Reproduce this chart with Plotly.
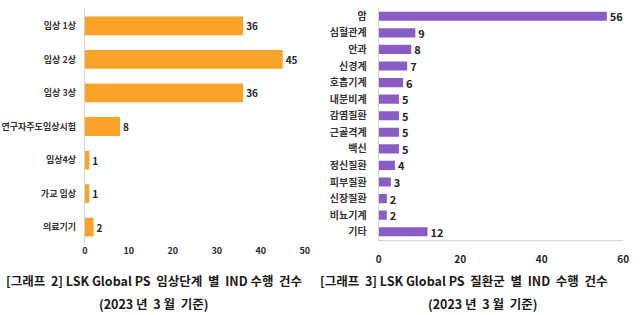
import plotly.graph_objects as go

stage_labels = ["임상 1상", "임상 2상", "임상 3상", "연구자주도임상시험", "임상4상", "가교 임상", "의료기기"]
stage_values = [36, 45, 36, 8, 1, 1, 2]

disease_labels = ["암", "심혈관계", "안과", "신경계", "호흡기계", "내분비계", "감염질환",
                  "근골격계", "백신", "정신질환", "피부질환", "신장질환", "비뇨기계", "기타"]
disease_values = [56, 9, 8, 7, 6, 5, 5, 5, 5, 4, 3, 2, 2, 12]

left_ticks = [0, 10, 20, 30, 40, 50]
right_ticks = [0, 20, 40, 60]

caption_left = "[그래프  2] LSK Global PS  임상단계  별  IND 수행  건수"
caption_right = "[그래프  3] LSK Global PS  질환군  별  IND  수행  건수"
caption_date = "(2023 년  3 월  기준)"

W, H = 640, 315
FONT = "Noto Sans CJK KR"

def px_x(x):
    return x / W

def px_y(y):
    return 1 - y / H

fig = go.Figure()

fig.add_trace(go.Bar(
    x=stage_values, y=stage_labels, orientation="h",
    marker=dict(color="#F9A428", line=dict(width=0)),
    text=stage_values, textposition="outside", cliponaxis=False, constraintext="none",
    textfont=dict(family=FONT, size=10, color="#262626", weight="bold"),
    xaxis="x", yaxis="y", width=0.56,
))

fig.add_trace(go.Bar(
    x=disease_values, y=disease_labels, orientation="h",
    marker=dict(color="#8A5CC6", line=dict(width=0)),
    text=disease_values, textposition="outside", cliponaxis=False, constraintext="none",
    textfont=dict(family=FONT, size=11, color="#262626", weight="bold"),
    xaxis="x2", yaxis="y2", width=0.55,
))

tickfont = dict(family=FONT, size=9, color="#262626", weight="bold")

fig.update_layout(
    width=W, height=H,
    margin=dict(l=0, r=0, t=0, b=0),
    paper_bgcolor="white", plot_bgcolor="white",
    showlegend=False,
    xaxis=dict(domain=[px_x(83), px_x(306)], range=[0, 50], tickvals=left_ticks,
               showgrid=False, zeroline=False, showline=False,
               tickfont=tickfont, ticks="", anchor="y"),
    yaxis=dict(domain=[px_y(244), px_y(9)], autorange="reversed",
               categoryorder="array", categoryarray=stage_labels,
               showgrid=False, zeroline=False, showline=True, linecolor="#d4d4d4", linewidth=1,
               tickfont=dict(family=FONT, size=9, color="#333333", weight="bold"),
               ticks="", ticklabelstandoff=6, anchor="x"),
    xaxis2=dict(domain=[px_x(381), px_x(629)], range=[0, 60], tickvals=right_ticks,
                showgrid=False, zeroline=False, showline=True, linecolor="#d4d4d4", linewidth=1,
                tickfont=dict(family=FONT, size=10, color="#262626", weight="bold"),
                ticks="", ticklabelstandoff=10, anchor="y2"),
    yaxis2=dict(domain=[px_y(240), px_y(8)], autorange="reversed",
                categoryorder="array", categoryarray=disease_labels,
                showgrid=False, zeroline=False, showline=True, linecolor="#d4d4d4", linewidth=1,
                tickfont=dict(family=FONT, size=10, color="#333333", weight="bold"),
                ticks="", ticklabelstandoff=9, anchor="x2"),
    font=dict(family=FONT),
)

capfont = dict(family=FONT, size=12.5, color="#1a1a1a", weight="bold")
fig.add_annotation(text=caption_left, x=px_x(153), y=px_y(280), xref="paper", yref="paper",
                   showarrow=False, font=capfont, xanchor="center", yanchor="middle")
fig.add_annotation(text=caption_date, x=px_x(153), y=px_y(303), xref="paper", yref="paper",
                   showarrow=False, font=capfont, xanchor="center", yanchor="middle")
fig.add_annotation(text=caption_right, x=px_x(467), y=px_y(280), xref="paper", yref="paper",
                   showarrow=False, font=capfont, xanchor="center", yanchor="middle")
fig.add_annotation(text=caption_date, x=px_x(486), y=px_y(303), xref="paper", yref="paper",
                   showarrow=False, font=capfont, xanchor="center", yanchor="middle")

fig.write_html("out.html")
